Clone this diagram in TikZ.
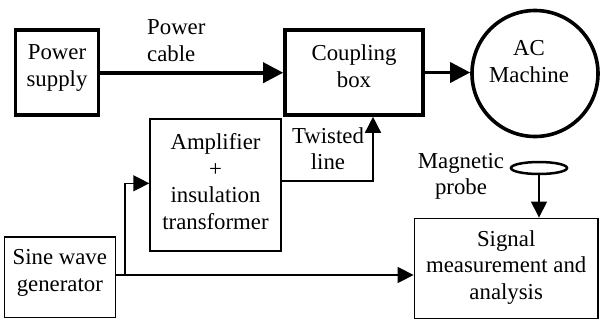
\documentclass[tikz,border=0pt]{standalone}
\usepackage{fontspec}
\setmainfont{Liberation Serif}
\usetikzlibrary{arrows.meta,shapes.geometric}
\begin{document}
\begin{tikzpicture}[x=1pt,y=-1pt,
  font=\fontsize{22.8}{26.6}\selectfont,
  thickbox/.style={draw, rectangle, line width=3.6pt, inner sep=0pt},
  thinbox/.style={draw, rectangle, line width=1.5pt, inner sep=0pt},
  boxtext/.style={align=center, inner sep=0pt},
  bigarrow/.style={line width=3.6pt, -{Triangle[length=20pt,width=20pt]}},
  smallarrow/.style={line width=1.5pt, -{Triangle[length=16pt,width=16pt]}}
]
\useasboundingbox (0,0) rectangle (600,322);

% boxes
\node[thickbox, minimum width=83pt, minimum height=85pt,
  label={[boxtext, yshift=4.8pt]center:{Power\\supply}}] (ps) at (57,72.7) {};
\node[thickbox, minimum width=138pt, minimum height=85pt,
  label={[boxtext, yshift=6.6pt]center:{Coupling\\box}}] (cb) at (354,72.5) {};
\node[circle, draw, line width=3.6pt, minimum size=126pt, inner sep=0pt,
  label={[boxtext, xshift=-6pt, yshift=12pt]center:{AC\\Machine}}] (ac) at (535,73.5) {};
\node[thinbox, minimum width=131pt, minimum height=132pt,
  label={[boxtext, yshift=3.6pt]center:{Amplifier\\+\\insulation\\transformer}}] (amp) at (215.5,185) {};
\node[thinbox, minimum width=111pt, minimum height=80.7pt,
  label={[boxtext, yshift=4.3pt]center:{Sine wave\\generator}}] (sine) at (59.8,277.3) {};
\node[thinbox, minimum width=183.7pt, minimum height=100pt,
  label={[boxtext, yshift=1pt]center:{Signal\\measurement and\\analysis}}] (sig) at (506.2,268.3) {};
\node[ellipse, draw, line width=2.5pt, minimum width=56pt, minimum height=12pt, inner sep=0pt] (probe) at (539,168) {};

% free labels
\node[align=left, anchor=north west, inner sep=0pt] (pclabel) at (147,19.8) {Power\\cable};
\node[boxtext] (twlabel) at (328,148.5) {Twisted\\line};
\node[boxtext] (mplabel) at (461,176.3) {Magnetic\\probe};

% connectors
\coordinate (tw) at (373,181);
\coordinate (gj) at (125,275);
\coordinate (ak) at (125,183.3);

\draw[bigarrow] (ps.east) -- (ps.east -| cb.west);
\draw[bigarrow] (cb.east) -- (cb.east -| ac.west);
\draw[smallarrow] (amp.east |- tw) -- (tw) -- (tw |- cb.south);
\draw[smallarrow] (sine.east |- gj) -- (gj -| sig.west);
\draw[smallarrow] (gj) -- (ak) -- (ak -| amp.west);
\draw[smallarrow] (probe.south) -- (probe.south |- sig.north);
\end{tikzpicture}
\end{document}
